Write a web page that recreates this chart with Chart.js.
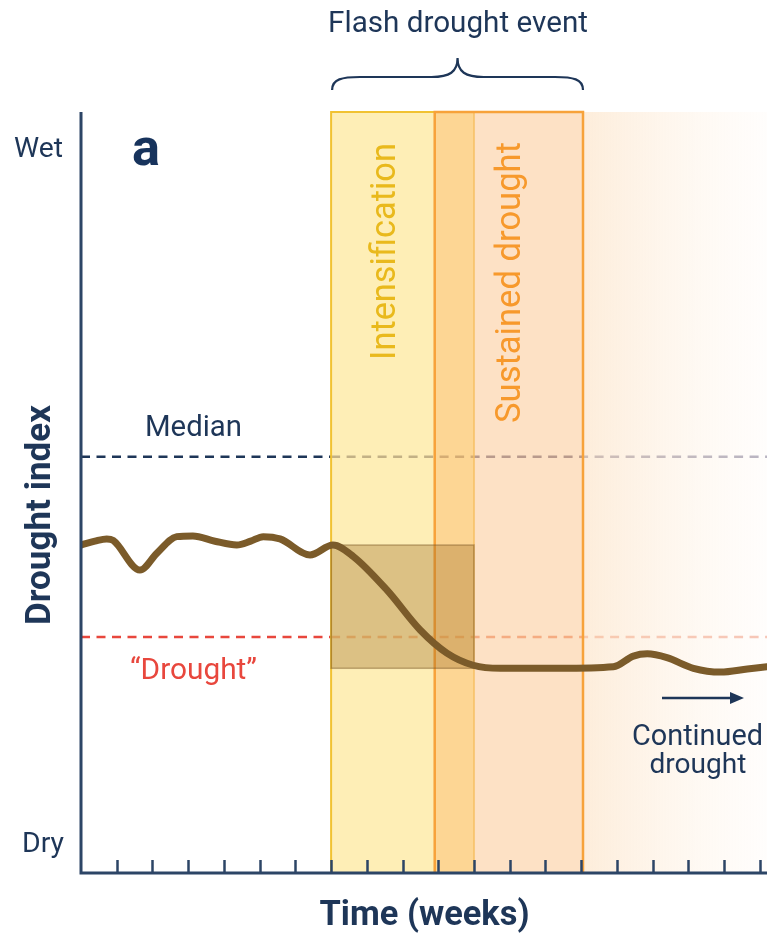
<!DOCTYPE html>
<html><head><meta charset="utf-8">
<script src="https://cdn.jsdelivr.net/npm/chart.js@4.4.1/dist/chart.umd.min.js"></script>
<style>html,body{margin:0;padding:0;background:#fff;}#wrap{width:769px;height:937px;}</style>
</head><body><div id="wrap"><canvas id="c" width="769" height="937"></canvas></div>
<script>
// ---- data (weeks vs. drought index, 0 = Dry, 100 = Wet) ----
const timeWeeks    = [0, 0.39, 0.72, 0.9, 1.65, 2.12, 2.68, 3.13, 3.75, 4.36, 4.75, 5.10, 5.57, 6.41, 7.05, 7.62, 8.56, 9.50, 10.24, 10.98, 11.74, 13.4, 14.9, 15.46, 15.85, 16.4, 17.14, 17.9, 18.65, 19.2];
const droughtIndex = [43.1, 43.6, 43.9, 43.7, 39.8, 42.0, 44.2, 44.3, 43.6, 43.1, 43.6, 44.2, 43.9, 41.8, 43.1, 41.6, 37.2, 31.9, 28.9, 27.3, 26.9, 26.9, 27.1, 28.5, 28.8, 28.3, 26.9, 26.4, 26.8, 27.1];
const tickWeeks = [1, 2, 3, 4, 5, 6, 7, 8, 9, 10, 11, 12, 13, 14, 15, 16, 17, 18, 19];
const yLabels = ['Wet', 'Dry'];
const medianLevel = 54.7;
const droughtLevel = 31.0;
const intensificationSpan = [7, 11];
const sustainedSpan = [9.9, 14.05];
const continuedSpan = [14.05, 19.2];
const onsetBoxX = [7, 11];
const onsetBoxY = [26.9, 43.1];
const xMax = 19.2, yMin = 0, yMax = 100;

const NAVY = '#1e3658';
const FONT = 'Roboto, "Noto Sans", sans-serif';

function fitFont(ctx, text, weight, targetW) {
  ctx.font = weight + ' 40px ' + FONT;
  const w = ctx.measureText(text).width;
  const s = 40 * targetW / w;
  ctx.font = weight + ' ' + s.toFixed(2) + 'px ' + FONT;
}
function textAt(ctx, text, weight, targetW, cx, baseY, color, rot) {
  ctx.save();
  fitFont(ctx, text, weight, targetW);
  ctx.fillStyle = color;
  ctx.textAlign = 'center';
  ctx.textBaseline = 'alphabetic';
  ctx.translate(cx, baseY);
  if (rot) ctx.rotate(rot);
  ctx.fillText(text, 0, 0);
  ctx.restore();
}

const decor = {
  id: 'decor',
  beforeDatasetsDraw(chart) {
    const ctx = chart.ctx, xs = chart.scales.x, ys = chart.scales.y, a = chart.chartArea;
    const X = v => xs.getPixelForValue(v), Y = v => ys.getPixelForValue(v);
    // dashed reference lines
    ctx.save();
    ctx.lineWidth = 2.5;
    ctx.setLineDash([9, 6.5]);
    const dl = (y, c1, c2) => {
      ctx.strokeStyle = c1; ctx.beginPath(); ctx.moveTo(X(0), y); ctx.lineTo(X(intensificationSpan[0]), y); ctx.stroke();
      ctx.strokeStyle = c2; ctx.beginPath(); ctx.moveTo(X(intensificationSpan[0]), y); ctx.lineTo(a.right, y); ctx.stroke();
    };
    dl(Y(medianLevel), NAVY, '#9a96ab');
    dl(Y(droughtLevel), '#e8473d', '#f3b09c');
    ctx.restore();

    ctx.save();
    // continued drought fade
    const cx0 = X(continuedSpan[0]), cx1 = X(continuedSpan[1]);
    const g = ctx.createLinearGradient(cx0, 0, cx1, 0);
    g.addColorStop(0, 'rgba(252,222,188,0.55)');
    g.addColorStop(1, 'rgba(255,250,245,0.3)');
    ctx.fillStyle = g;
    ctx.fillRect(cx0, Y(yMax), cx1 - cx0, Y(yMin) - Y(yMax));
    // intensification band
    const ix0 = X(intensificationSpan[0]), ix1 = X(intensificationSpan[1]);
    ctx.fillStyle = 'rgba(252,215,80,0.42)';
    ctx.fillRect(ix0, Y(yMax), ix1 - ix0, Y(yMin) - Y(yMax));
    // sustained band
    const sx0 = X(sustainedSpan[0]), sx1 = X(sustainedSpan[1]);
    ctx.fillStyle = 'rgba(248,165,80,0.33)';
    ctx.fillRect(sx0, Y(yMax), sx1 - sx0, Y(yMin) - Y(yMax));
    // band borders
    ctx.lineWidth = 2;
    ctx.strokeStyle = '#f1c232';
    ctx.beginPath(); ctx.moveTo(ix0, Y(yMin)); ctx.lineTo(ix0, Y(yMax)); ctx.lineTo(sx0, Y(yMax)); ctx.stroke();
    ctx.strokeStyle = 'rgba(246,190,95,0.7)';
    ctx.beginPath(); ctx.moveTo(ix1, Y(yMax)); ctx.lineTo(ix1, Y(yMin)); ctx.stroke();
    ctx.lineWidth = 2.5;
    ctx.strokeStyle = '#f7a23a';
    ctx.beginPath(); ctx.moveTo(sx0, Y(yMin)); ctx.lineTo(sx0, Y(yMax)); ctx.lineTo(sx1, Y(yMax)); ctx.lineTo(sx1, Y(yMin)); ctx.stroke();
    // onset box
    const bx0 = X(onsetBoxX[0]), bx1 = X(onsetBoxX[1]), by0 = Y(onsetBoxY[1]), by1 = Y(onsetBoxY[0]);
    ctx.fillStyle = 'rgba(155,105,35,0.34)';
    ctx.fillRect(bx0, by0, bx1 - bx0, by1 - by0);
    ctx.strokeStyle = 'rgba(125,88,40,0.45)';
    ctx.lineWidth = 1.5;
    ctx.strokeRect(bx0, by0, bx1 - bx0, by1 - by0);
    ctx.restore();
  },
  afterDatasetsDraw(chart) {
    const ctx = chart.ctx, xs = chart.scales.x, ys = chart.scales.y, a = chart.chartArea;
    const X = v => xs.getPixelForValue(v), Y = v => ys.getPixelForValue(v);
    ctx.save();
    // axes
    ctx.strokeStyle = '#2c4566';
    ctx.lineWidth = 3;
    ctx.beginPath(); ctx.moveTo(X(0), Y(yMax)); ctx.lineTo(X(0), Y(yMin)); ctx.lineTo(a.right, Y(yMin)); ctx.stroke();
    ctx.lineWidth = 2.5;
    tickWeeks.forEach(t => {
      const x = Math.round(X(t)) + 0.5;
      ctx.beginPath(); ctx.moveTo(x, Y(yMin)); ctx.lineTo(x, Y(yMin) - 13); ctx.stroke();
    });
    // brace above the flash drought event
    const b0 = X(intensificationSpan[0]) + 1, b1 = X(sustainedSpan[1]), bm = (b0 + b1) / 2;
    ctx.strokeStyle = NAVY; ctx.lineWidth = 2.2; ctx.setLineDash([]);
    ctx.beginPath();
    ctx.moveTo(b0, 90);
    ctx.bezierCurveTo(b0, 79, b0 + 10, 77, b0 + 28, 77);
    ctx.lineTo(bm - 26, 77);
    ctx.bezierCurveTo(bm - 8, 77, bm, 72, bm, 58);
    ctx.bezierCurveTo(bm, 72, bm + 8, 77, bm + 26, 77);
    ctx.lineTo(b1 - 28, 77);
    ctx.bezierCurveTo(b1 - 10, 77, b1, 79, b1, 90);
    ctx.stroke();
    // arrow
    ctx.lineWidth = 2.5;
    ctx.beginPath(); ctx.moveTo(662, 698); ctx.lineTo(733, 698); ctx.stroke();
    ctx.fillStyle = NAVY;
    ctx.beginPath(); ctx.moveTo(744, 698); ctx.lineTo(730, 692); ctx.lineTo(730, 704); ctx.closePath(); ctx.fill();
    ctx.restore();

    // texts
    textAt(ctx, 'Flash drought event', '400', 260, 458, 32, NAVY);
    textAt(ctx, yLabels[0], '400', 49, 38.5, 157, NAVY);
    textAt(ctx, yLabels[1], '400', 42, 43, 852, NAVY);
    textAt(ctx, 'a', '700', 28, 146, 165, '#17335c');
    textAt(ctx, 'Median', '400', 97, 193.5, 436, NAVY);
    textAt(ctx, '\u201cDrought\u201d', '400', 127, 193.5, 679, '#e8473d');
    textAt(ctx, 'Drought index', '700', 220, 50, 515, NAVY, -Math.PI / 2);
    textAt(ctx, 'Time (weeks)', '700', 210, 424.5, 925, NAVY);
    textAt(ctx, 'Intensification', '400', 217, 395, 251.5, '#e9b91c', -Math.PI / 2);
    textAt(ctx, 'Sustained drought', '400', 281, 520, 282.5, '#f7992c', -Math.PI / 2);
    textAt(ctx, 'Continued', '400', 131, 697.5, 745, NAVY);
    textAt(ctx, 'drought', '400', 97, 698, 773, NAVY);
  }
};

new Chart(document.getElementById('c'), {
  type: 'line',
  data: {
    datasets: [{
      data: timeWeeks.map((x, i) => ({ x: x, y: droughtIndex[i] })),
      borderColor: '#7b5b2a',
      borderWidth: 7,
      pointRadius: 0,
      fill: false,
      cubicInterpolationMode: 'monotone',
      borderCapStyle: 'round',
      borderJoinStyle: 'round'
    }]
  },
  options: {
    responsive: false,
    animation: false,
    devicePixelRatio: 1,
    layout: { padding: { left: 81, right: 2, top: 112, bottom: 64 } },
    plugins: { legend: { display: false }, tooltip: { enabled: false } },
    scales: {
      x: { type: 'linear', min: 0, max: xMax, display: false },
      y: { type: 'linear', min: yMin, max: yMax, display: false }
    }
  },
  plugins: [decor]
});
</script>
</body></html>
